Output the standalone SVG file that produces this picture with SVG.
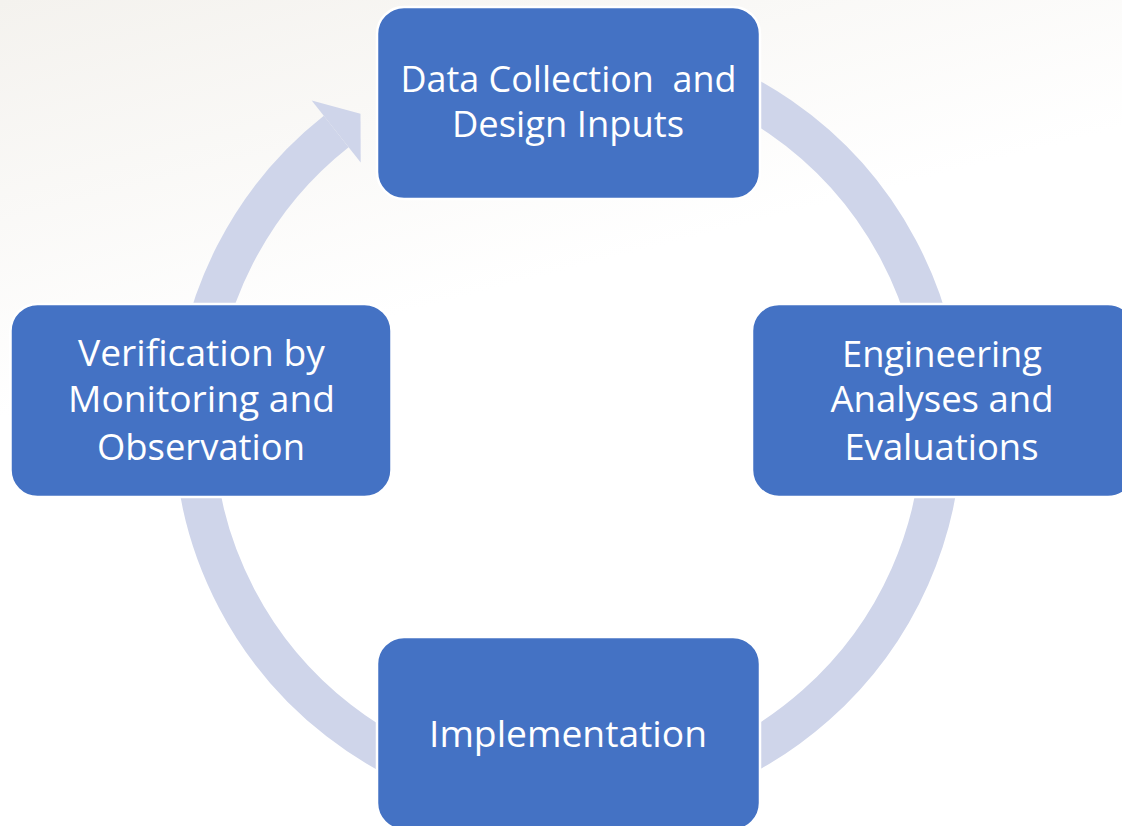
<svg xmlns="http://www.w3.org/2000/svg" width="1122" height="826" viewBox="0 0 1122 826">
  <defs>
    <linearGradient id="bg" x1="0" y1="0" x2="0.35" y2="1">
      <stop offset="0" stop-color="#F4F2EE"/>
      <stop offset="0.45" stop-color="#FFFFFF"/>
      <stop offset="1" stop-color="#FFFFFF"/>
    </linearGradient>
  </defs>
  <style>
    .node rect { fill: #4472C4; stroke: #FFFFFF; stroke-width: 2.5; }
    .node text { fill: #FFFFFF; font-family: "Open Sans", "Noto Sans", "Liberation Sans", sans-serif; font-size: 36px; text-anchor: middle; font-variant-ligatures: none; }
    .ring { fill: none; stroke: #CFD5EA; stroke-width: 40; stroke-linecap: butt; }
    .head { fill: #CFD5EA; }
  </style>
  <rect x="0" y="0" width="1122" height="826" fill="url(#bg)"/>

  <g id="connectors">
    <path class="ring" d="M 632.9 56.7 A 374 374 0 1 1 336.2 131.5"/>
    <polygon class="head" points="311.7,100.5 360.5,113.8 360.7,162.5"/>
  </g>

  <g id="node-data" class="node">
    <rect x="377" y="7" width="383" height="192" rx="27" ry="27"/>
    <text x="568.5" y="92" textLength="336" lengthAdjust="spacingAndGlyphs" xml:space="preserve">Data Collection  and</text>
    <text x="568" y="137" textLength="232" lengthAdjust="spacingAndGlyphs">Design Inputs</text>
  </g>

  <g id="node-engineering" class="node">
    <rect x="752" y="304" width="383" height="193" rx="27" ry="27"/>
    <text x="942" y="367" textLength="200" lengthAdjust="spacingAndGlyphs">Engineering</text>
    <text x="942" y="412" textLength="223" lengthAdjust="spacingAndGlyphs">Analyses and</text>
    <text x="941.5" y="460" textLength="194" lengthAdjust="spacingAndGlyphs">Evaluations</text>
  </g>

  <g id="node-implementation" class="node">
    <rect x="377" y="637" width="383" height="193" rx="27" ry="27"/>
    <text x="568" y="747" textLength="278" lengthAdjust="spacingAndGlyphs">Implementation</text>
  </g>

  <g id="node-verification" class="node">
    <rect x="10.5" y="304" width="381" height="193" rx="27" ry="27"/>
    <text x="201.5" y="366" textLength="247" lengthAdjust="spacingAndGlyphs">Verification by</text>
    <text x="201.5" y="412" textLength="267" lengthAdjust="spacingAndGlyphs">Monitoring and</text>
    <text x="201" y="460" textLength="208" lengthAdjust="spacingAndGlyphs">Observation</text>
  </g>
</svg>
